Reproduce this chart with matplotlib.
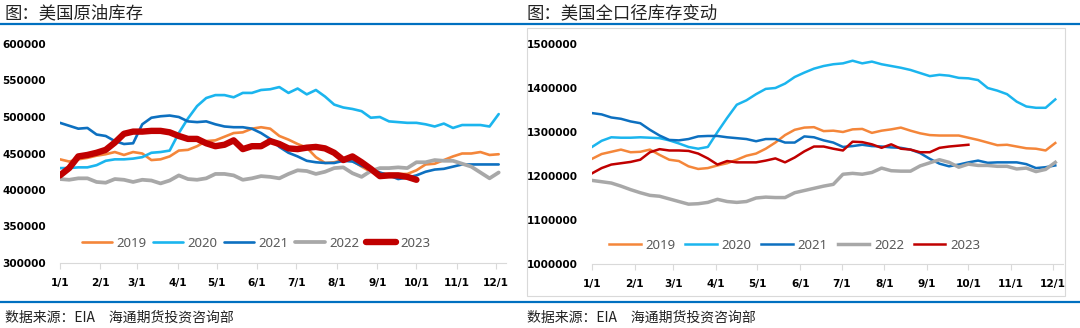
import matplotlib
matplotlib.use("Agg")
import matplotlib.pyplot as plt
from matplotlib.lines import Line2D
from matplotlib.patches import Rectangle

plt.rcParams['font.family'] = ['Noto Sans CJK SC', 'DejaVu Sans']

# month ticks (x axis is in weeks since 1/1)
month_labels = ["1/1", "2/1", "3/1", "4/1", "5/1", "6/1", "7/1", "8/1", "9/1", "10/1", "11/1", "12/1"]
month_days = [0, 31, 59, 90, 120, 151, 181, 212, 243, 273, 304, 334]
years = ["2019", "2020", "2021", "2022", "2023"]

# US crude oil inventory (thousand barrels), weekly
crude_2019 = [442, 439, 442, 444, 447, 449, 452, 448, 452, 450, 441, 442, 446, 454, 455, 460, 467, 468, 473, 478,
              479, 484, 486, 484, 474, 469, 463, 458, 445, 437, 438, 441, 440, 432, 425, 423, 422, 422, 422, 427,
              435, 436, 441, 446, 450, 450, 452, 448, 449]
crude_2020 = [430, 430, 431, 431, 434, 440, 442, 442, 443, 445, 451, 452, 454, 478, 498, 515, 526, 530, 530, 527,
              533, 533, 537, 538, 541, 533, 539, 531, 537, 528, 517, 513, 511, 508, 499, 500, 494, 493, 492, 492,
              490, 487, 491, 485, 489, 489, 489, 487, 504]
crude_2021 = [492, 488, 484, 485, 476, 474, 467, 463, 464, 490, 499, 501, 502, 500, 494, 493, 494, 490, 487, 486,
              486, 484, 478, 470, 459, 451, 446, 440, 438, 437, 437, 440, 439, 433, 429, 424, 420, 415, 417, 420,
              425, 428, 429, 432, 435, 435, 435, 435, 435]
crude_2022 = [415, 414, 416, 416, 411, 410, 415, 414, 411, 414, 413, 409, 413, 420, 415, 414, 416, 422, 422, 420,
              414, 416, 419, 418, 416, 422, 427, 426, 422, 425, 430, 431, 423, 418, 426, 430, 430, 431, 430, 438,
              438, 441, 440, 440, 436, 432, 424, 416, 424]
crude_2023 = [420, 430, 446, 448, 451, 455, 465, 477, 480, 480, 481, 481, 479, 474, 470, 470, 464, 460, 462, 468,
              456, 460, 460, 467, 463, 457, 456, 458, 459, 457, 451, 441, 446, 438, 429, 419, 420, 420, 418, 414]

# US total inventory (thousand barrels), weekly
total_2019 = [1239, 1250, 1255, 1260, 1254, 1255, 1260, 1248, 1237, 1234, 1222, 1216, 1218, 1224, 1229, 1237, 1246,
              1251, 1262, 1276, 1293, 1305, 1310, 1311, 1302, 1303, 1300, 1306, 1307, 1298, 1303, 1306, 1310, 1303,
              1297, 1293, 1292, 1292, 1292, 1287, 1282, 1276, 1270, 1271, 1267, 1263, 1262, 1258, 1275]
total_2020 = [1266, 1280, 1288, 1287, 1287, 1288, 1287, 1286, 1281, 1274, 1266, 1262, 1266, 1300, 1332, 1362, 1372,
              1386, 1398, 1400, 1410, 1425, 1435, 1444, 1450, 1454, 1456, 1462, 1456, 1460, 1454, 1450, 1446, 1441,
              1434, 1427, 1430, 1428, 1423, 1422, 1418, 1400, 1394, 1386, 1369, 1358, 1355, 1355, 1374]
total_2021 = [1343, 1340, 1333, 1330, 1324, 1320, 1305, 1292, 1282, 1281, 1284, 1290, 1291, 1291, 1288, 1286, 1284,
              1279, 1284, 1284, 1276, 1276, 1290, 1288, 1281, 1276, 1266, 1268, 1271, 1268, 1267, 1265, 1264, 1260,
              1252, 1239, 1228, 1222, 1226, 1231, 1235, 1230, 1231, 1231, 1231, 1227, 1218, 1220, 1224]
total_2022 = [1190, 1187, 1184, 1177, 1169, 1162, 1156, 1154, 1148, 1142, 1136, 1137, 1140, 1147, 1142, 1140, 1142,
              1150, 1152, 1151, 1151, 1162, 1167, 1172, 1177, 1181, 1204, 1206, 1204, 1208, 1218, 1212, 1211, 1211,
              1223, 1230, 1237, 1231, 1220, 1227, 1224, 1224, 1222, 1222, 1216, 1218, 1210, 1215, 1231]
total_2023 = [1206, 1218, 1226, 1229, 1232, 1237, 1254, 1261, 1258, 1258, 1257, 1251, 1240, 1226, 1234, 1231, 1231,
              1231, 1235, 1240, 1231, 1242, 1256, 1267, 1267, 1262, 1258, 1278, 1277, 1272, 1264, 1272, 1262, 1260,
              1254, 1254, 1264, 1267, 1269, 1271]

colors = ["#F4863A", "#1BB5EE", "#0D70C0", "#A8A8A8", "#C00000"]
left_widths = [1.9, 1.9, 1.9, 2.7, 4.6]
right_widths = [1.8, 1.8, 1.8, 2.5, 1.8]

fig = plt.figure(figsize=(10.8, 3.28), dpi=100)

# header / footer decoration
fig.add_artist(Line2D([0, 1], [1 - 23.5 / 328] * 2, color="#0070C0", lw=1.6))
fig.add_artist(Line2D([0, 1], [1 - 302 / 328] * 2, color="#0070C0", lw=1.6))
fig.add_artist(Rectangle((527 / 1080, 1 - 296 / 328), 538 / 1080, 268 / 328, fill=False,
                         edgecolor="#D9D9D9", lw=0.8))
title_y = 1 - 13 / 328
src_y = 1 - 318 / 328
fig.text(5 / 1080, title_y, "图：美国原油库存", fontsize=12.5, color="#222222", va="center", fontweight="medium")
fig.text(527 / 1080, title_y, "图：美国全口径库存变动", fontsize=12.5, color="#222222", va="center", fontweight="medium")
fig.text(5 / 1080, src_y, "数据来源：EIA　海通期货投资咨询部", fontsize=10, color="#222222", va="center")
fig.text(527 / 1080, src_y, "数据来源：EIA　海通期货投资咨询部", fontsize=10, color="#222222", va="center")

tick_font = {"family": "DejaVu Sans", "weight": "bold", "size": 7.6}


def setup(ax, ylim, yticks):
    ax.set_xlim(0, 48.8)
    ax.set_ylim(*ylim)
    ax.set_yticks(yticks)
    ax.set_yticklabels([str(v) for v in yticks], fontdict=tick_font)
    ax.set_xticks([d / 7 for d in month_days])
    ax.set_xticklabels(month_labels, fontdict=tick_font)
    for s in ["top", "right", "left"]:
        ax.spines[s].set_visible(False)
    ax.spines["bottom"].set_color("#D9D9D9")
    ax.tick_params(axis="y", length=0, pad=10)
    ax.tick_params(axis="x", length=4, color="#D9D9D9", pad=7, direction="out")
    ax.set_facecolor("none")


# left: crude inventory
ax1 = fig.add_axes([60 / 1080, 1 - 263 / 328, 446 / 1080, 219 / 328])
crude = [crude_2019, crude_2020, crude_2021, crude_2022, crude_2023]
for yr, vals, c, w in zip(years, crude, colors, left_widths):
    ax1.plot(range(len(vals)), [v * 1000 for v in vals], color=c, lw=w, label=yr, solid_capstyle="round")
setup(ax1, (300000, 600000), [300000, 350000, 400000, 450000, 500000, 550000, 600000])
ax1.legend(loc="center", bbox_to_anchor=(0.44, 0.09), ncol=5, frameon=False, handlelength=2.3,
           handletextpad=0.35, columnspacing=0.45, prop={"family": "Noto Sans", "size": 9.5},
           labelcolor="#595959")

# right: total inventory
ax2 = fig.add_axes([592 / 1080, 1 - 264 / 328, 471 / 1080, 220 / 328])
total = [total_2019, total_2020, total_2021, total_2022, total_2023]
for yr, vals, c, w in zip(years, total, colors, right_widths):
    ax2.plot(range(len(vals)), [v * 1000 for v in vals], color=c, lw=w, label=yr)
setup(ax2, (1000000, 1500000), [1000000, 1100000, 1200000, 1300000, 1400000, 1500000])
ax2.legend(loc="center", bbox_to_anchor=(0.43, 0.085), ncol=5, frameon=False, handlelength=2.4,
           handletextpad=0.35, columnspacing=0.75, prop={"family": "Noto Sans", "size": 9.5},
           labelcolor="#595959")

fig.savefig("out.png", dpi=100)
